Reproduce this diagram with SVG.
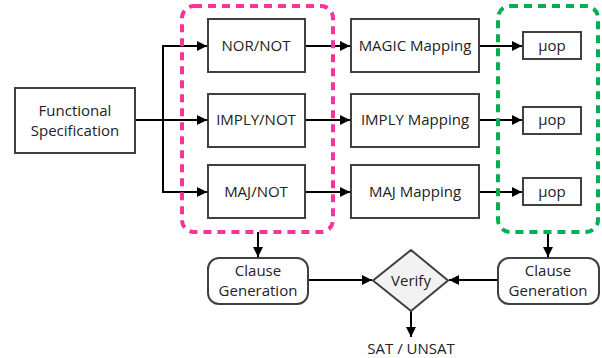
<svg xmlns="http://www.w3.org/2000/svg" width="602" height="358" viewBox="0 0 602 358">
<style>
.box{fill:#fff;stroke:#404040;stroke-width:2}
.t{font-family:"Open Sans","Noto Sans",sans-serif;font-size:15px;fill:#222;text-anchor:middle;dominant-baseline:central}
.c{stroke:#000;stroke-width:2;fill:none}
</style>
<defs>
<marker id="ah" viewBox="0 0 10 10" refX="10" refY="5" markerWidth="5.5" markerHeight="5" orient="auto" markerUnits="strokeWidth">
<path d="M0,0 L10,5 L0,10 z" fill="#000"/>
</marker>
</defs>
<g id="connectors">
<path class="c" d="M135,120 L207,120" marker-end="url(#ah)"/>
<path class="c" d="M163,192 L163,46"/>
<path class="c" d="M162,46 L207,46" marker-end="url(#ah)"/>
<path class="c" d="M162,192 L207,192" marker-end="url(#ah)"/>
<path class="c" d="M305,46 L350,46" marker-end="url(#ah)"/>
<path class="c" d="M305,120 L350,120" marker-end="url(#ah)"/>
<path class="c" d="M305,192 L350,192" marker-end="url(#ah)"/>
<path class="c" d="M479,46 L522,46" marker-end="url(#ah)"/>
<path class="c" d="M479,120 L522,120" marker-end="url(#ah)"/>
<path class="c" d="M479,192 L522,192" marker-end="url(#ah)"/>
<path class="c" d="M258,232 L258,257" marker-end="url(#ah)"/>
<path class="c" d="M548,232 L548,257" marker-end="url(#ah)"/>
<path class="c" d="M308,280 L372,280" marker-end="url(#ah)"/>
<path class="c" d="M498,280 L449,280" marker-end="url(#ah)"/>
<path class="c" d="M411,311 L411,337" marker-end="url(#ah)"/>
</g>
<g id="pink-group"><rect x="182" y="6" width="151" height="226" rx="12" fill="none" stroke="#F5359A" stroke-width="4" stroke-dasharray="8,6"/></g>
<g id="green-group"><rect x="498" y="6" width="100" height="226" rx="12" fill="none" stroke="#00B050" stroke-width="4" stroke-dasharray="8,6"/></g>
<g id="func"><rect class="box" x="15" y="88" width="120" height="65"/><text class="t" x="75" y="110">Functional</text><text class="t" x="75" y="130">Specification</text></g>
<g id="nor"><rect class="box" x="208" y="19" width="97" height="53"/><text class="t" x="256" y="45">NOR/NOT</text></g>
<g id="imply"><rect class="box" x="208" y="94" width="97" height="53"/><text class="t" x="256" y="119">IMPLY/NOT</text></g>
<g id="maj"><rect class="box" x="208" y="165" width="97" height="53"/><text class="t" x="256" y="191">MAJ/NOT</text></g>
<g id="magicmap"><rect class="box" x="351" y="19" width="128" height="53"/><text class="t" x="415" y="45">MAGIC Mapping</text></g>
<g id="implymap"><rect class="box" x="351" y="94" width="128" height="53"/><text class="t" x="415" y="119">IMPLY Mapping</text></g>
<g id="majmap"><rect class="box" x="351" y="165" width="128" height="53"/><text class="t" x="415" y="191">MAJ Mapping</text></g>
<g id="uop1"><rect class="box" x="523" y="32" width="58" height="27"/><text class="t" x="552" y="45">μop</text></g>
<g id="uop2"><rect class="box" x="523" y="107" width="58" height="27"/><text class="t" x="552" y="119">μop</text></g>
<g id="uop3"><rect class="box" x="523" y="178" width="58" height="27"/><text class="t" x="552" y="191">μop</text></g>
<g id="clause1"><rect class="box" x="208" y="258" width="100" height="46" rx="11"/><text class="t" x="258" y="270">Clause</text><text class="t" x="258" y="290">Generation</text></g>
<g id="clause2"><rect class="box" x="498" y="258" width="101" height="46" rx="11"/><text class="t" x="548" y="270">Clause</text><text class="t" x="548" y="290">Generation</text></g>
<g id="verify"><path d="M411,250 L448,280.5 L411,311 L373,280.5 Z" fill="#F2F2F2" stroke="#404040" stroke-width="2"/><text class="t" x="411" y="280">Verify</text></g>
<g id="result"><text class="t" x="411" y="348">SAT / UNSAT</text></g>
</svg>
